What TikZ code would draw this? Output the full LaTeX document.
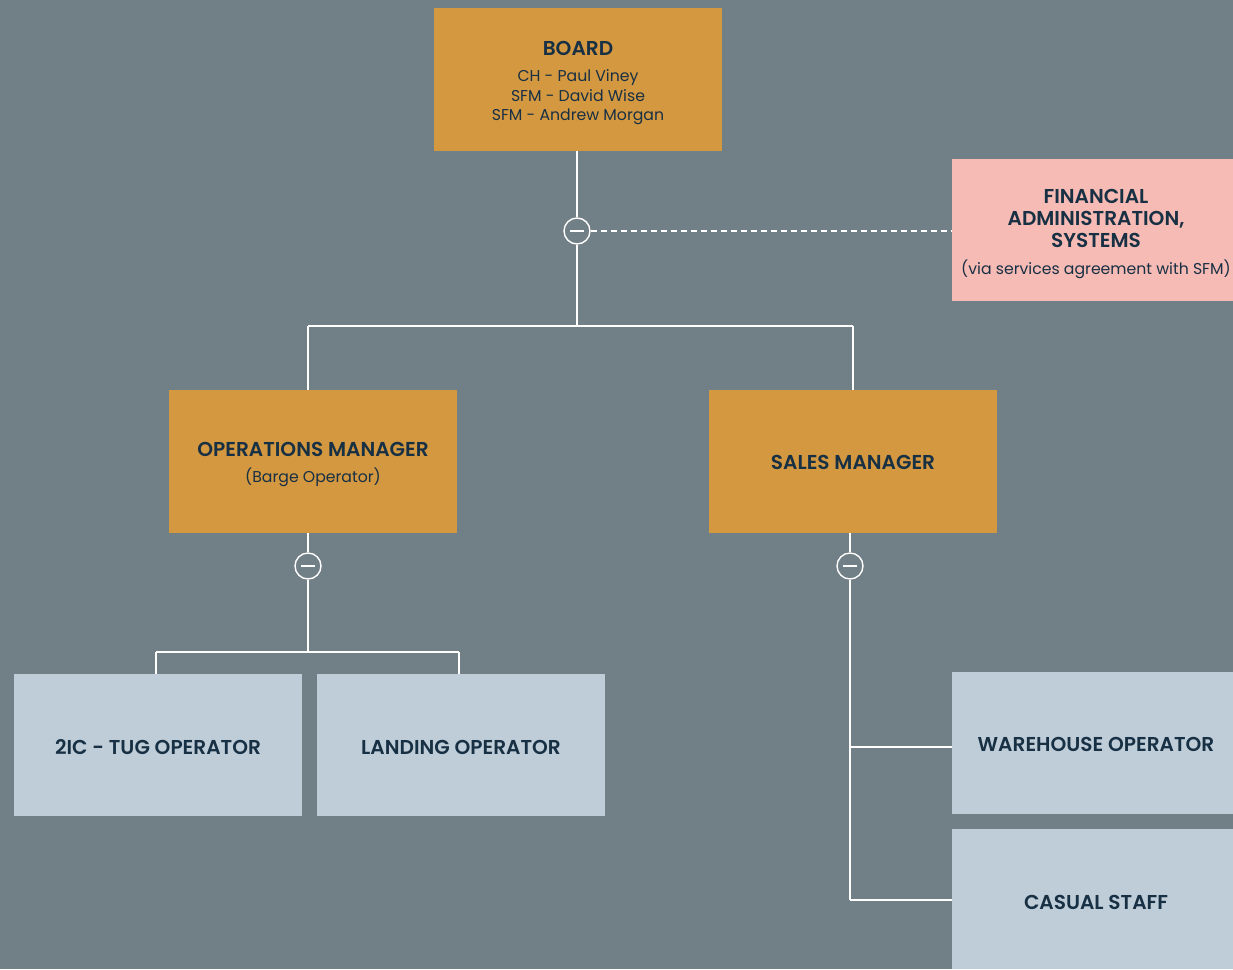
\documentclass[tikz,border=0pt]{standalone}
\usepackage{fontspec}
\setmainfont{Poppins}[BoldFont={Poppins SemiBold}]
\definecolor{bg}{RGB}{113,127,135}
\definecolor{orangebox}{RGB}{211,152,64}
\definecolor{pinkbox}{RGB}{246,187,180}
\definecolor{bluebox}{RGB}{191,205,217}
\definecolor{txt}{RGB}{24,48,68}
\tikzset{
  box/.style={rectangle, inner sep=0pt, anchor=north west},
  obox/.style={box, fill=orangebox, minimum width=288pt, minimum height=143pt},
  pbox/.style={box, fill=pinkbox, minimum width=281pt, minimum height=142pt},
  bbox/.style={box, fill=bluebox, minimum width=288pt, minimum height=142pt},
  ttl/.style={text=txt, anchor=base, inner sep=0pt, font=\fontsize{20.1}{22}\selectfont\bfseries},
  sub/.style={text=txt, anchor=base, inner sep=0pt, font=\fontsize{15.7}{19}\selectfont},
  conn/.style={draw=white, line width=1.5pt},
  toggle/.style={circle, draw=white, line width=1.4pt, fill=bg, minimum size=26pt, inner sep=0pt}
}
\begin{document}
\begin{tikzpicture}[x=1pt,y=-1pt]
\fill[bg] (0,0) rectangle (1233,969);
\useasboundingbox (0,0) rectangle (1233,969);

\node[obox] (board) at (434,8) {};
\node[ttl] (boardt) at (578,55) {BOARD};
\node[sub] (b1) at (578,81) {CH - Paul Viney};
\node[sub] (b2) at (578,101) {SFM - David Wise};
\node[sub] (b3) at (578,120) {SFM - Andrew Morgan};

\node[pbox] (fin) at (952,159) {};
\node[ttl] (f1) at (1096,203) {FINANCIAL};
\node[ttl] (f2) at (1096,225) {ADMINISTRATION,};
\node[ttl] (f3) at (1096,247) {SYSTEMS};
\node[sub] (f4) at (1096,274) {(via services agreement with SFM)};

\node[obox] (ops) at (169,390) {};
\node[ttl] (o1) at (313,456) {OPERATIONS MANAGER};
\node[sub] (o2) at (313,482) {(Barge Operator)};

\node[obox] (sales) at (709,390) {};
\node[ttl] (salest) at (853,469) {SALES MANAGER};

\node[bbox] (tug) at (14,674) {};
\node[ttl] (tugt) at (158,754) {2IC - TUG OPERATOR};

\node[bbox] (land) at (317,674) {};
\node[ttl] (landt) at (461,754) {LANDING OPERATOR};

\node[pbox, fill=bluebox] (ware) at (952,672) {};
\node[ttl] (waret) at (1096,751) {WAREHOUSE OPERATOR};

\node[pbox, fill=bluebox, minimum height=140pt] (cas) at (952,829) {};
\node[ttl] (cast) at (1096,909) {CASUAL STAFF};

% connectors
\node[toggle] (t1) at (577,231) {};
\node[toggle] (t2) at (308,566) {};
\node[toggle] (t3) at (850,566) {};
\foreach \t in {t1,t2,t3}{\draw[white, line width=1.4pt] ([xshift=-7pt]\t.center) -- ([xshift=7pt]\t.center);}

\coordinate (j1) at (577,326);
\coordinate (jl) at (308,326);
\coordinate (jr) at (853,326);
\draw[conn] (board.south -| t1) -- (t1.north);
\draw[conn] (t1.south) -- (j1);
\draw[conn] (jl) -- (jr);
\draw[conn] (jl) -- (jl |- ops.north);
\draw[conn] (jr) -- (jr |- sales.north);
\draw[conn, dash pattern=on 6pt off 4pt, line width=1.2pt] (t1.east) -- (fin.west |- t1);

\coordinate (j2) at (308,652);
\coordinate (j2l) at (156,652);
\coordinate (j2r) at (459,652);
\draw[conn] (ops.south -| t2) -- (t2.north);
\draw[conn] (t2.south) -- (j2);
\draw[conn] (j2l) -- (j2r);
\draw[conn] (j2l) -- (j2l |- tug.north);
\draw[conn] (j2r) -- (j2r |- land.north);

\coordinate (j3) at (850,900);
\coordinate (j4) at (850,747);
\draw[conn] (sales.south -| t3) -- (t3.north);
\draw[conn] (t3.south) -- (j3);
\draw[conn] (j4) -- (ware.west |- j4);
\draw[conn] (j3) -- (cas.west |- j3);
\end{tikzpicture}
\end{document}
